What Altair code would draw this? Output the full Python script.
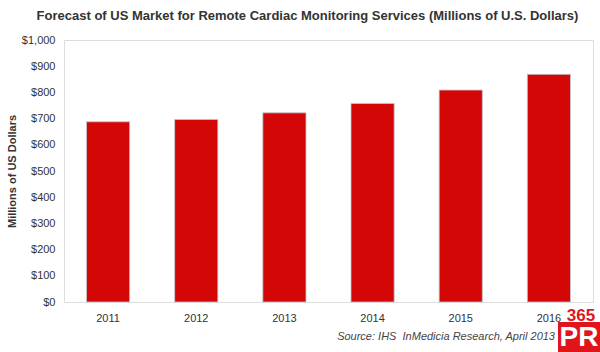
import altair as alt
import pandas as pd

years = ["2011", "2012", "2013", "2014", "2015", "2016"]
values = [688, 697, 722, 758, 809, 869]
y_ticks = [0, 100, 200, 300, 400, 500, 600, 700, 800, 900, 1000]
title_text = "Forecast of US Market for Remote Cardiac Monitoring Services (Millions of U.S. Dollars)"
y_title = "Millions of US Dollars"
source_text = "Source: IHS\u00a0 InMedicia Research, April 2013"

df = pd.DataFrame({"year": years, "value": values})
one = pd.DataFrame({"k": [0]})

bars = alt.Chart(df).mark_bar(color="#d40707", stroke="#c3ccd4", strokeWidth=0.8).encode(
    x=alt.X("year:N", sort=years,
            scale=alt.Scale(paddingInner=0.51, paddingOuter=0.255),
            axis=alt.Axis(title=None, labelAngle=0, ticks=False, domain=False,
                          labelPadding=10, labelFontSize=11, labelColor="#333333",
                          labelFont="Liberation Sans")),
    y=alt.Y("value:Q", scale=alt.Scale(domain=[0, 1000], nice=False),
            axis=alt.Axis(title=y_title, values=y_ticks, format="$,d", grid=False,
                          ticks=False, domain=False, labelPadding=9, labelFontSize=11,
                          labelColor="#333333", labelFont="Liberation Sans",
                          titleFont="Liberation Sans", titleFontSize=11,
                          titleFontWeight="bold", titleColor="#333333", titlePadding=4)),
)

source = alt.Chart(one).mark_text(
    text=source_text, align="right", baseline="middle", fontStyle="italic",
    font="Liberation Sans", fontSize=11, color="#444444"
).encode(x=alt.value(491), y=alt.value(297))

logo_box = alt.Chart(one).mark_rect(color="#e0151b").encode(
    x=alt.value(494), x2=alt.value(536), y=alt.value(282), y2=alt.value(312))
logo_pr = alt.Chart(one).mark_text(
    text="PR", align="center", baseline="middle", fontWeight="bold",
    font="Liberation Sans", fontSize=28, color="white"
).encode(x=alt.value(515), y=alt.value(298))
logo_365 = alt.Chart(one).mark_text(
    text="365", align="center", baseline="alphabetic", fontWeight="bold",
    font="Liberation Sans", fontSize=17, color="#e0151b"
).encode(x=alt.value(517), y=alt.value(281))

chart = alt.layer(bars, source, logo_box, logo_pr, logo_365).properties(
    width=529, height=262,
    title=alt.TitleParams(title_text, font="Liberation Sans", fontSize=13,
                          fontWeight="bold", color="#333333", anchor="middle",
                          dx=-21, offset=11),
    autosize=alt.AutoSizeParams(type="none"),
    padding={"left": 64, "top": 40, "right": 7, "bottom": 50},
).configure_view(stroke="#8a8a8a", strokeWidth=1.2).configure(background="white")

chart.save("out.html", embed_options={"renderer": "svg", "actions": False})
